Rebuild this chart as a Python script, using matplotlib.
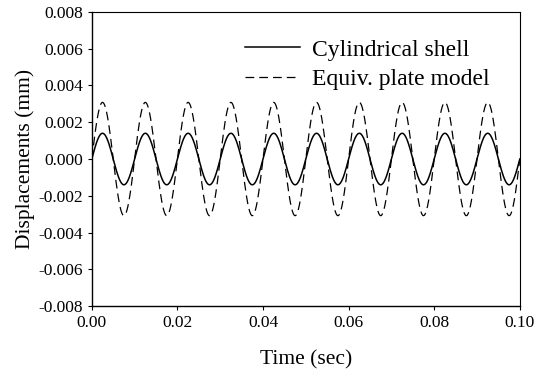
import numpy as np
import matplotlib
matplotlib.use("Agg")
import matplotlib.pyplot as plt

plt.rcParams['font.family'] = ['Liberation Serif', 'DejaVu Serif']

# values
period = 0.01                 # s, ten cycles over 0.1 s
shell_amp = 0.00140           # mm, solid curve
plate_amp = 0.00308           # mm, dashed curve
series_names = ['Cylindrical shell', 'Equiv. plate model']
x_ticks = [0.00, 0.02, 0.04, 0.06, 0.08, 0.10]
y_ticks = [-0.008, -0.006, -0.004, -0.002, 0.000, 0.002, 0.004, 0.006, 0.008]

t = np.linspace(0, 0.1, 2001)
shell = shell_amp * np.sin(2 * np.pi * t / period)
plate = plate_amp * np.sin(2 * np.pi * t / period)

fig = plt.figure(figsize=(5.37, 3.72), dpi=100)
ax = fig.add_axes([0.171, 0.177, 0.797, 0.791])

ax.plot(t, shell, color='black', lw=1.1, label=series_names[0])
ax.plot(t, plate, color='black', lw=0.9, dashes=(7, 4), label=series_names[1])

ax.set_xlim(0, 0.1)
ax.set_ylim(-0.008, 0.008)
ax.set_xticks(x_ticks)
ax.set_xticklabels([f"{v:.2f}" for v in x_ticks])
ax.set_yticks(y_ticks)
ax.set_yticklabels([f"{v:.3f}".replace('\u2212', '-') for v in y_ticks])
ax.tick_params(labelsize=12.5, length=3, width=0.8, direction='out', colors='black')

ax.set_xlabel('Time (sec)', fontsize=15.5, labelpad=14)
ax.set_ylabel('Displacements (mm)', fontsize=15.5, labelpad=2)

for s in ['left', 'bottom']:
    ax.spines[s].set_linewidth(1.0)
for s in ['top', 'right']:
    ax.spines[s].set_linewidth(0.8)

ax.legend(loc='upper right', bbox_to_anchor=(0.978, 0.98), frameon=False,
          fontsize=17, handlelength=2.3, handletextpad=0.5, labelspacing=0.33)

plt.savefig('out.png', dpi=100)
